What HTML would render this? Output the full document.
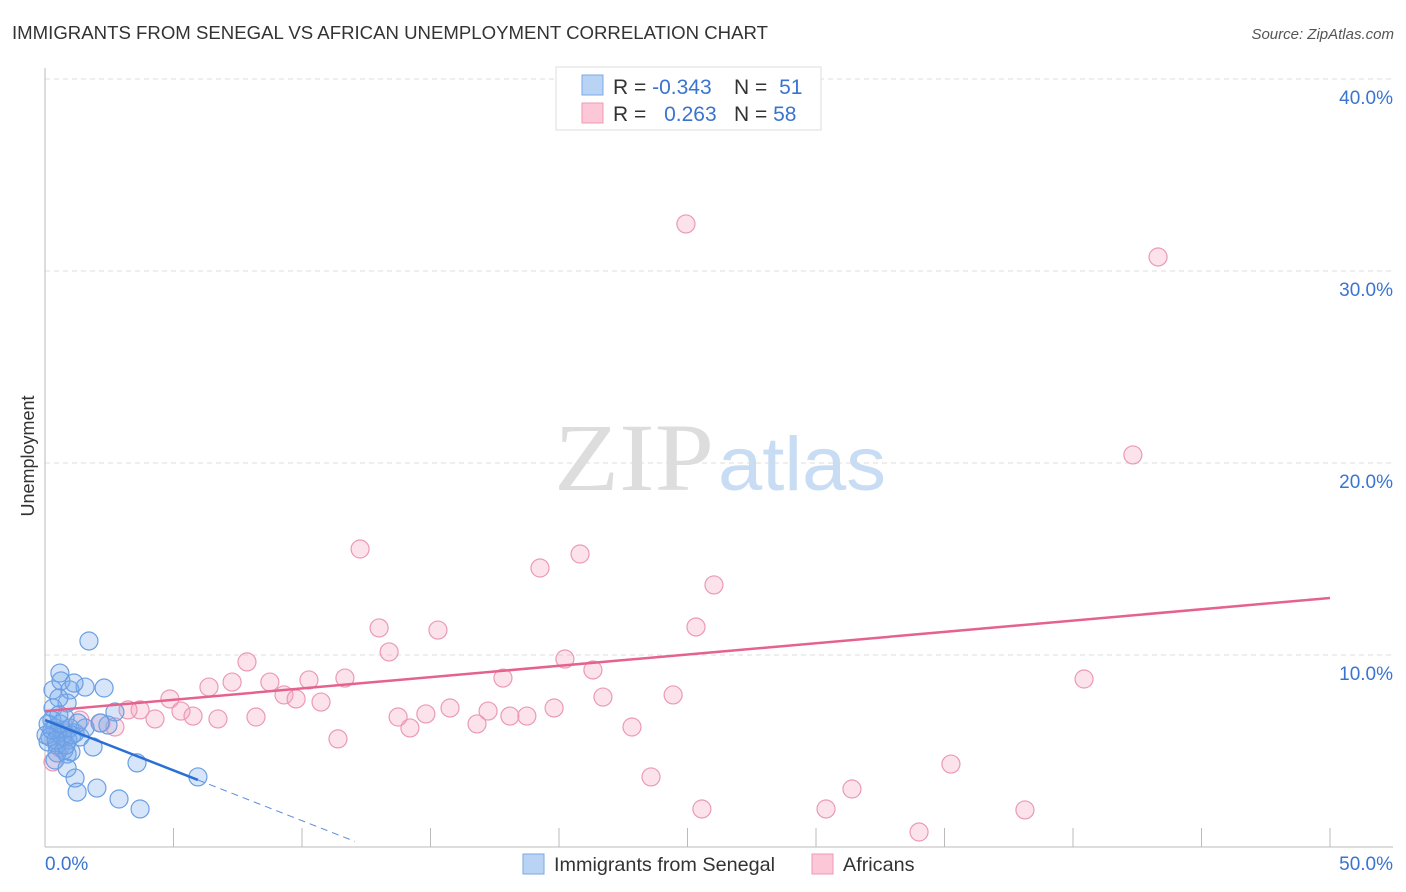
<!DOCTYPE html>
<html><head><meta charset="utf-8"><style>
body{margin:0;background:#fff;font-family:"Liberation Sans",sans-serif;}
#wrap{position:relative;width:1406px;height:892px;overflow:hidden;}
</style></head><body>
<div id="wrap">
<svg id="svg" width="1406" height="892" xmlns="http://www.w3.org/2000/svg">
<text x="12" y="39" font-size="18" fill="#333" textLength="756" lengthAdjust="spacingAndGlyphs">IMMIGRANTS FROM SENEGAL VS AFRICAN UNEMPLOYMENT CORRELATION CHART</text>
<text x="1394" y="39" font-size="15" fill="#555" font-style="italic" text-anchor="end">Source: ZipAtlas.com</text>
<text x="34" y="456" font-size="18" fill="#333" transform="rotate(-90 34 456)" text-anchor="middle">Unemployment</text>
<text x="554" y="490" font-size="96" fill="#ddd" font-family="Liberation Serif" textLength="160" lengthAdjust="spacingAndGlyphs">ZIP</text>
<text x="718" y="490" font-size="76" fill="#c8dcf3" textLength="168" lengthAdjust="spacingAndGlyphs">atlas</text>
<g id="grid"></g><g id="axes"></g><g id="pts"></g><g id="trend"></g>
<rect x="556" y="67" width="265" height="63" fill="#fff" stroke="#ddd"/>
<rect x="582" y="75" width="21" height="20" fill="#b9d3f5" stroke="#7aa8e6"/>
<rect x="582" y="103" width="21" height="20" fill="#fcc8d8" stroke="#ee9ab6"/>
<g font-size="21">
<text x="613" y="94" fill="#333">R = <tspan fill="#3a74d0">-0.343</tspan></text>
<text x="734" y="94" fill="#333">N = <tspan fill="#3a74d0" dx="6">51</tspan></text>
<text x="613" y="121" fill="#333">R = <tspan fill="#3a74d0" dx="12">0.263</tspan></text>
<text x="734" y="121" fill="#333">N = <tspan fill="#3a74d0">58</tspan></text>
</g>
<rect x="523" y="854" width="21" height="20" fill="#b9d3f5" stroke="#7aa8e6"/>
<text x="554" y="871" font-size="19.8" fill="#333">Immigrants from Senegal</text>
<rect x="812" y="854" width="21" height="20" fill="#fcc8d8" stroke="#ee9ab6"/>
<text x="843" y="871" font-size="19.8" fill="#333">Africans</text>
</svg></div>
<script>
const blueX=[1.71,0.58,0.31,0.62,0.97,1.56,2.30,1.13,0.86,0.54,0.31,2.72,0.27,0.78,0.12,0.39,0.70,0.97,0.51,0.19,0.66,1.17,0.89,1.36,0.12,0.47,1.87,0.74,1.01,0.47,0.86,0.39,3.58,0.86,1.17,2.02,1.25,2.88,3.70,5.95,2.45,2.14,0.04,0.27,0.58,1.05,1.56,0.82,0.43,0.54,1.28];
const blueY=[10.73,9.06,8.18,8.65,8.18,8.33,8.28,8.54,7.50,7.76,7.24,7.03,6.61,6.72,6.41,6.20,6.09,6.20,5.94,5.73,5.73,5.94,5.57,5.73,5.47,5.31,5.21,5.05,4.95,4.90,4.84,4.53,4.38,4.11,3.59,3.07,2.86,2.50,1.98,3.65,6.35,6.46,5.83,6.09,6.41,5.83,6.20,5.31,5.57,6.88,6.46];
const pinkX=[24.94,43.31,42.33,12.26,19.26,20.82,26.03,13.00,15.29,25.33,13.39,7.86,20.23,21.32,11.67,10.27,8.75,17.82,6.38,7.28,4.86,9.30,9.77,10.74,21.71,24.44,40.43,3.70,3.23,5.29,5.76,4.28,6.73,8.21,13.74,14.82,15.76,17.24,19.81,18.09,18.75,16.81,14.20,22.84,2.72,2.18,1.36,11.40,23.58,25.56,30.39,31.40,35.25,38.13,34.01,0.58,0.31,0.78];
const pinkY=[32.45,30.73,20.42,15.52,14.53,15.26,13.65,11.41,11.30,11.46,10.16,9.64,9.79,9.22,8.80,8.70,8.59,8.80,8.33,8.59,7.71,7.92,7.71,7.55,7.81,7.92,8.75,7.14,7.14,7.08,6.82,6.67,6.67,6.77,6.77,6.93,7.24,7.08,7.24,6.82,6.82,6.41,6.20,6.25,6.25,6.46,6.61,5.63,3.65,1.98,1.98,3.02,4.32,1.93,0.78,5.16,4.43,5.94];
const yTicks=[10,20,30,40];
const yTickLabels=["10.0%","20.0%","30.0%","40.0%"];
const xTicks=[5,10,15,20,25,30,35,40,45,50];
const blueTrend=[6.61,-0.524,5.95,12.06]; // intercept, slope, solid end, dashed end
const pinkTrend=[7.08,0.1178,50];
const X=v=>45+v*25.7, Y=v=>847-v*19.2;
const NS="http://www.w3.org/2000/svg";
function mk(tag,attrs,parent){const e=document.createElementNS(NS,tag);for(const k in attrs)e.setAttribute(k,attrs[k]);document.getElementById(parent).appendChild(e);return e;}
yTicks.forEach((t,i)=>{
 const l=mk('line',{x1:45,x2:1393,y1:Y(t),y2:Y(t),stroke:'#ddd','stroke-dasharray':'5,4'},'grid');
 
 
 const tx=mk('text',{x:1393,y:Y(t)+25,'font-size':19,fill:'#3a74d0','text-anchor':'end'},'grid');
 tx.textContent=yTickLabels[i];
 
 
});
const ax=mk('line',{x1:45,x2:45,y1:68,y2:847,stroke:'#bbb'},'axes');


const bx=mk('line',{x1:45,x2:1393,y1:847,y2:847,stroke:'#bbb'},'axes');


xTicks.forEach(t=>{
 const l=mk('line',{x1:X(t),x2:X(t),y1:828,y2:847,stroke:'#bbb'},'axes');
 
 
});
const x0=mk('text',{x:45,y:870,'font-size':19,fill:'#3a74d0'},'axes');x0.textContent='0.0%';


const x1=mk('text',{x:1393,y:870,'font-size':19,fill:'#3a74d0','text-anchor':'end'},'axes');x1.textContent='50.0%';


pinkX.forEach((v,i)=>{
 const c=mk('circle',{cx:X(v),cy:Y(pinkY[i]),r:9,fill:'rgba(245,160,190,0.3)',stroke:'#eb9ab5','stroke-width':1.2},'pts');
 
 
});
blueX.forEach((v,i)=>{
 const c=mk('circle',{cx:X(v),cy:Y(blueY[i]),r:9,fill:'rgba(120,170,235,0.3)',stroke:'#6b9fe3','stroke-width':1.2},'pts');
 
 
});
const bt=v=>blueTrend[0]+blueTrend[1]*v;
const l1=mk('line',{x1:X(0),y1:Y(bt(0)),x2:X(blueTrend[2]),y2:Y(bt(blueTrend[2])),stroke:'#2a6fd6','stroke-width':2.5},'trend');


const l2=mk('line',{x1:X(blueTrend[2]),y1:Y(bt(blueTrend[2])),x2:X(blueTrend[3]),y2:Y(bt(blueTrend[3])),stroke:'#5a8fe0','stroke-width':1,'stroke-dasharray':'7,5'},'trend');


const l3=mk('line',{x1:X(0),y1:Y(pinkTrend[0]),x2:X(pinkTrend[2]),y2:Y(pinkTrend[0]+pinkTrend[1]*pinkTrend[2]),stroke:'#e5628f','stroke-width':2.5},'trend');


</script>
</body></html>
